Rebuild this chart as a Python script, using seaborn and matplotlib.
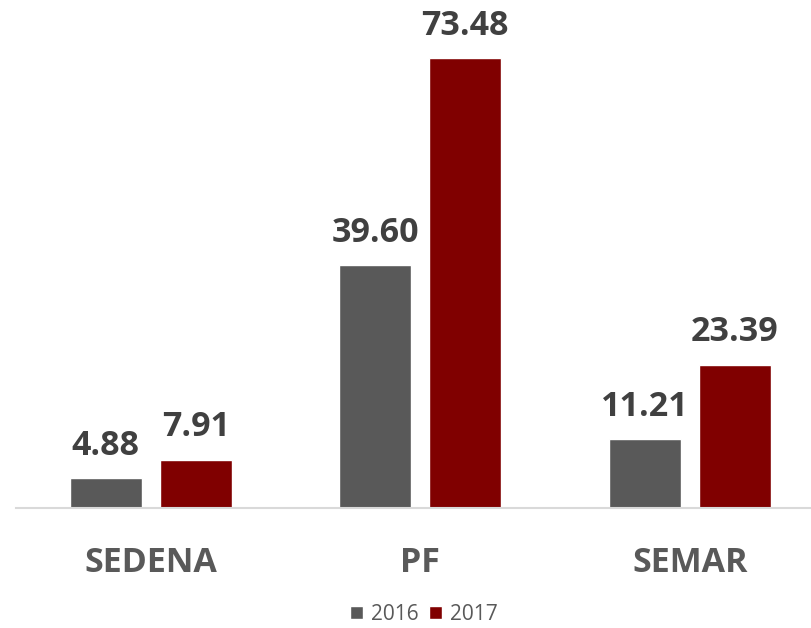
import pandas as pd
import seaborn as sns
import matplotlib
matplotlib.use('Agg')
import matplotlib.pyplot as plt
from matplotlib.patches import Patch

# datos
categorias = ['SEDENA', 'PF', 'SEMAR']
anios = ['2016', '2017']
valores_2016 = [4.88, 39.60, 11.21]
valores_2017 = [7.91, 73.48, 23.39]

colores = {'2016': '#595959', '2017': '#800000'}

df = pd.DataFrame({
    'categoria': categorias * 2,
    'anio': ['2016'] * 3 + ['2017'] * 3,
    'valor': valores_2016 + valores_2017,
})

sns.set_theme(style='white')
plt.rcParams['font.family'] = ['Open Sans', 'DejaVu Sans']

fig = plt.figure(figsize=(8.11, 6.28), dpi=100)
ax = fig.add_axes([16 / 811, 120 / 628, 795 / 811, 508 / 628])

sns.barplot(data=df, x='categoria', y='valor', hue='anio', order=categorias,
            hue_order=anios, palette=colores, width=0.667, gap=0.2,
            saturation=1, legend=False, ax=ax)

ax.set_xlim(-0.5, 2.45)
ax.set_ylim(0, 508 / 6.124)

# etiquetas de valores
for cont in ax.containers:
    ax.bar_label(cont, fmt='%.2f', padding=11, fontsize=24.5, fontweight='bold',
                 color='#404040')

for side in ['top', 'right', 'left']:
    ax.spines[side].set_visible(False)
ax.spines['bottom'].set_color('#d9d9d9')
ax.spines['bottom'].set_linewidth(1.5)

ax.set_yticks([])
ax.set_xlabel('')
ax.set_ylabel('')
ax.tick_params(axis='x', length=0, pad=27, labelsize=24.5, labelcolor='#595959')
for lbl in ax.get_xticklabels():
    lbl.set_fontweight('bold')

handles = [Patch(facecolor=colores[a], label=a) for a in anios]
fig.legend(handles=handles, loc='center', bbox_to_anchor=(424 / 811, 1 - 614 / 628),
           ncol=2, frameon=False, fontsize=15, handlelength=0.6, handleheight=0.6,
           handletextpad=0.4, columnspacing=0.5, labelcolor='#595959')

plt.savefig('out.png', dpi=100)
plt.close()
